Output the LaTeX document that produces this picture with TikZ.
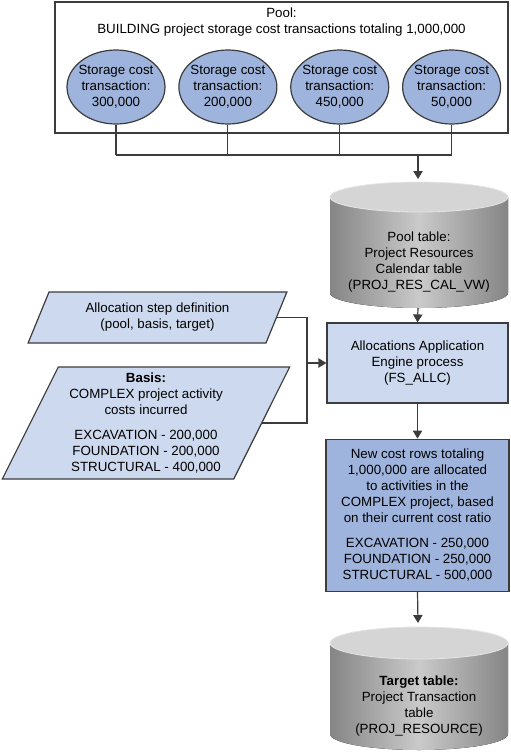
\documentclass[tikz,border=0pt]{standalone}
\usepackage{fontspec}
\setmainfont{Liberation Sans}
\usetikzlibrary{positioning,shapes.geometric,arrows.meta}

\definecolor{lineGray}{HTML}{3C3C3C}
\definecolor{costBlue}{HTML}{9FB4DC}
\definecolor{paleBlue}{HTML}{CDD9EE}
\definecolor{cylSide}{HTML}{858585}
\definecolor{cylMid}{HTML}{CACACA}
\definecolor{cylTop}{HTML}{D5D5D5}

\begin{document}
\begin{tikzpicture}[x=0.75pt,y=-0.75pt,
    every node/.style={font=\fontsize{10}{12}\selectfont, align=center},
    line/.style={draw=lineGray, line width=0.9pt},
    arrow/.style={line, -{Triangle[length=6pt,width=7pt]}},
    poolbox/.style={draw=lineGray, line width=1.1pt, minimum width=339.75pt, minimum height=98.25pt, inner sep=0pt},
    costitem/.style={ellipse, draw=lineGray, line width=0.9pt, fill=costBlue, minimum width=73.5pt, minimum height=55.5pt, inner xsep=-2.5pt, inner ysep=0pt},
    inputdata/.style={trapezium, trapezium left angle=64, trapezium right angle=116, trapezium stretches=true, draw=lineGray, line width=0.9pt, fill=paleBlue, inner sep=0pt},
    process/.style={draw=lineGray, line width=0.9pt, fill=paleBlue, minimum width=135.75pt, minimum height=60pt},
    result/.style={draw=lineGray, line width=0.9pt, fill=costBlue, minimum width=137.25pt, minimum height=114pt},
    cylbody/.style={left color=cylSide, right color=cylSide, middle color=cylMid},
    cyltop/.style={fill=cylTop, draw=white!80!gray, line width=0.6pt}]
\useasboundingbox (0,0) rectangle (511,754);

% pool of storage costs
\node[poolbox] (pool) at (281.5,67.5) {};
\node (poolTitle) at (281.5,22) {Pool:\\BUILDING project storage cost transactions totaling 1,000,000};
\node[costitem] (t1) at (116,87) {Storage cost\\transaction:\\300,000};
\node[costitem, right=9.5pt of t1] (t2) {Storage cost\\transaction:\\200,000};
\node[costitem, right=9.5pt of t2] (t3) {Storage cost\\transaction:\\450,000};
\node[costitem, right=9.5pt of t3] (t4) {Storage cost\\transaction:\\50,000};

% pool table
\fill[cylbody] (330,197) -- (330,293) arc[start angle=180, end angle=0, x radius=89, y radius=15] -- (508,197) -- cycle;
\filldraw[cyltop] (419,197) ellipse[x radius=89, y radius=15];
\node (poolTable) at (419,262) {Pool table:\\Project Resources\\Calendar table\\(PROJ\_RES\_CAL\_VW)};
\coordinate (poolJoin) at (418,155);
\coordinate (poolTop) at (418,179);
\coordinate (poolBottom) at (418,308);

% inputs and process
\node[inputdata, minimum width=194.25pt, minimum height=38.25pt] (stepDef) at (157.5,317.5) {Allocation step definition\\(pool, basis, target)};
\node[inputdata, minimum width=216pt, minimum height=84pt] (basis) at (146,423) {\textbf{Basis:}\\COMPLEX project activity\\costs incurred\\[6.75pt]EXCAVATION - 200,000\\FOUNDATION - 200,000\\STRUCTURAL - 400,000};
\node[process] (engine) at (417.5,363) {Allocations Application\\Engine process\\(FS\_ALLC)};
\coordinate (inJoin) at (307,363);
\node[result, below=26.25pt of engine] (newRows) {New cost rows totaling\\1,000,000 are allocated\\to activities in the\\COMPLEX project, based\\on their current cost ratio\\[6.75pt]EXCAVATION - 250,000\\FOUNDATION - 250,000\\STRUCTURAL - 500,000};

% target table
\fill[cylbody] (330,643) -- (330,734) arc[start angle=180, end angle=0, x radius=89, y radius=16] -- (508,643) -- cycle;
\filldraw[cyltop] (419,643) ellipse[x radius=89, y radius=16];
\node (targetTable) at (419,706) {\textbf{Target table:}\\Project Transaction\\table\\(PROJ\_RESOURCE)};
\coordinate (targetTop) at (418,623);

% connectors
\foreach \i in {1,...,4}
    \draw[line] (t\i.south) -- (t\i.south |- poolJoin);
\draw[line] (t1.south |- poolJoin) -- (t4.south |- poolJoin);
\draw[arrow] (poolJoin) -- (poolTop);
\draw[arrow] (poolBottom) -- (engine.north);
\draw[line] (stepDef.east) -| (inJoin);
\draw[line] (basis.east) -| (inJoin);
\draw[arrow] (inJoin) -- (engine.west);
\draw[arrow] (engine.south) -- (newRows.north);
\draw[arrow] (newRows.south) -- (targetTop);
\end{tikzpicture}
\end{document}
